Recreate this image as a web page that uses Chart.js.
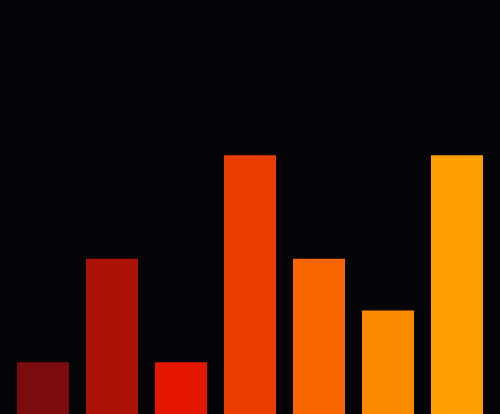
<!DOCTYPE html>
<html>
<head>
<meta charset="utf-8">
<script src="https://cdn.jsdelivr.net/npm/chart.js@4"></script>
<style>
  html, body { margin: 0; padding: 0; background: #050507; }
  #wrap { width: 500px; height: 414px; }
</style>
</head>
<body>
<div id="wrap"><canvas id="chart"></canvas></div>
<script>
const categories = ['A', 'B', 'C', 'D', 'E', 'F', 'G'];
const values = [1, 3, 1, 5, 3, 2, 5];
const barColors = ['#7a0c0f', '#ad1209', '#e51600', '#ec3d00', '#f76400', '#fb8c00', '#ffa000'];
const yMax = 8;

new Chart(document.getElementById('chart'), {
  type: 'bar',
  data: {
    labels: categories,
    datasets: [{
      data: values,
      backgroundColor: barColors,
      borderWidth: 0,
      categoryPercentage: 1,
      barPercentage: 0.754
    }]
  },
  options: {
    responsive: true,
    maintainAspectRatio: false,
    animation: false,
    layout: { padding: { left: 8.5, right: 8.5, top: 0, bottom: 0 } },
    plugins: { legend: { display: false }, tooltip: { enabled: false } },
    scales: {
      x: { display: false },
      y: { display: false, min: 0, max: yMax }
    }
  }
});
</script>
</body>
</html>
